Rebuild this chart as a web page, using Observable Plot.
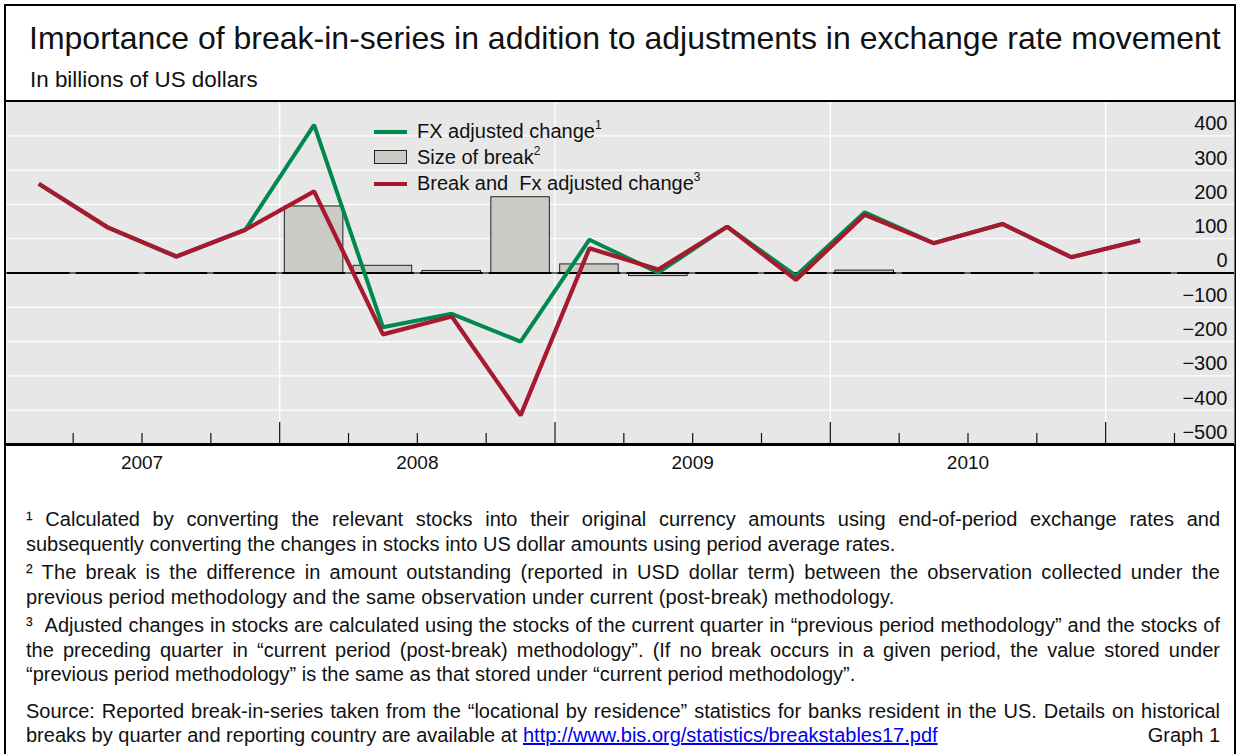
<!DOCTYPE html>
<html><head><meta charset="utf-8">
<script src="https://cdn.jsdelivr.net/npm/d3@7"></script>
<script src="https://cdn.jsdelivr.net/npm/@observablehq/plot@0.6"></script>
<style>
body{margin:0;background:#fff;font-family:"Liberation Sans",Arial,sans-serif;color:#111;}
#page{position:relative;width:1240px;height:754px;overflow:hidden;}
#frame{position:absolute;left:4px;top:4px;width:1232px;height:800px;border:2px solid #000;box-sizing:border-box;}
#title{position:absolute;left:29px;top:20px;font-size:32px;line-height:36px;white-space:nowrap;}
#subtitle{position:absolute;left:30px;top:67px;font-size:22.4px;line-height:26px;white-space:nowrap;}
#topline{position:absolute;left:4px;top:99.5px;width:1232px;height:2.5px;background:#000;}
#chart{position:absolute;left:6px;top:101px;}
#legend{position:absolute;left:0;top:0;}
.sw{position:absolute;left:374px;width:33px;}
.lt{position:absolute;left:417px;font-size:20px;line-height:22px;white-space:nowrap;}
.lt sup{font-size:12px;vertical-align:0;position:relative;top:-9px;}
#notes{position:absolute;left:26px;top:507px;width:1194px;font-size:20px;line-height:24.5px;text-align:justify;}
#notes p{margin:0 0 4px 0;}
#notes p.wide{letter-spacing:0.15px;}
#notes p.src{margin:12px 0 0 0;text-align-last:justify;white-space:nowrap;}
#notes .last{display:flex;justify-content:space-between;}
#notes a{color:#0000ee;text-decoration:underline;}
</style></head><body>
<div id="page">
  <div id="frame"></div>
  <div id="title">Importance of break-in-series in addition to adjustments in exchange rate movement</div>
  <div id="subtitle">In billions of US dollars</div>
  <div id="chart"></div>
  <div id="topline"></div>
  <div id="legend">
    <div class="sw" style="top:129.5px;height:4px;background:#00894e;"></div>
    <div class="lt" style="top:120px;">FX adjusted change<sup>1</sup></div>
    <div class="sw" style="top:150px;height:14px;background:#cbcbc5;border:1px solid #222;box-sizing:border-box;"></div>
    <div class="lt" style="top:146px;">Size of break<sup>2</sup></div>
    <div class="sw" style="top:182px;height:4px;background:#a6192e;"></div>
    <div class="lt" style="top:172px;">Break and &nbsp;Fx adjusted change<sup>3</sup></div>
  </div>
  <div id="notes">
    <p>¹ Calculated by converting the relevant stocks into their original currency amounts using end-of-period exchange rates and subsequently converting the changes in stocks into US dollar amounts using period average rates.</p>
    <p class="wide">² The break is the difference in amount outstanding (reported in USD dollar term) between the observation collected under the previous period methodology and the same observation under current (post-break) methodology.</p>
    <p>³ &nbsp;Adjusted changes in stocks are calculated using the stocks of the current quarter in “previous period methodology” and the stocks of the preceding quarter in “current period (post-break) methodology”. (If no break occurs in a given period, the value stored under “previous period methodology” is the same as that stored under “current period methodology”.</p>
    <p class="src">Source: Reported break-in-series taken from the “locational by residence” statistics for banks resident in the US. Details on historical</p>
    <div class="last"><span>breaks by quarter and reporting country are available at <a href="#">http://www.bis.org/statistics/breakstables17.pdf</a></span><span>Graph 1</span></div>
  </div>
</div>
<script>
const quarters = ["2007Q1","2007Q2","2007Q3","2007Q4","2008Q1","2008Q2","2008Q3","2008Q4","2009Q1","2009Q2","2009Q3","2009Q4","2010Q1","2010Q2","2010Q3","2010Q4","2011Q1"];
const fxAdjusted    = [260, 133, 48, 126, 432, -158, -119, -200, 97, 1, 135, -8, 177, 87, 143, 46, 95];
const breakAdjusted = [260, 133, 48, 126, 238, -179, -127, -415, 72, 10, 135, -20, 170, 87, 143, 46, 95];
const breakSize     = [0, 0, 0, 0, 194, 21, 6, 221, 25, -9, 0, 0, 7, 0, 0, 0, 0];
const yearLabels = ["2007","2008","2009","2010"];
const yTicks = [400, 300, 200, 100, 0, -100, -200, -300, -400, -500];
const yTickLabels = ["400","300","200","100","0","−100","−200","−300","−400","−500"];

const table = quarters.map((q, i) => ({k: i, q, year: q.slice(0, 4), fx: fxAdjusted[i], brk: breakAdjusted[i], size: breakSize[i]}));
const yearStarts = table.filter(d => d.q.endsWith("Q1") && d.k > 0).map(d => d.k);
const minorTicks = table.filter(d => d.k > 0 && !d.q.endsWith("Q1")).map(d => d.k).concat([quarters.length]);
const years = yearLabels.map(y => ({y, c: d3.mean(table.filter(d => d.year === y), d => d.k + 0.5)}));

const H = 343, W = 1228;
const yLo = -500, yHi = 500;
const px = p => yLo + p * (yHi - yLo) / H;
const xDomain = [0.031, 17.872];

const chart = Plot.plot({
  width: W, height: H + 40,
  marginTop: 0, marginBottom: 40, marginLeft: 0, marginRight: 0,
  x: {type: "linear", domain: xDomain, axis: null},
  y: {domain: [yLo, yHi], axis: null},
  style: {fontFamily: "'Liberation Sans', Arial, sans-serif", background: "transparent", overflow: "visible"},
  marks: [
    Plot.frame({fill: "#e7e7e7", stroke: null}),
    Plot.ruleY(yTicks.filter(v => v > yLo && v !== 0), {stroke: "#fff", strokeWidth: 1.3}),
    Plot.ruleX(yearStarts, {stroke: "#fff", strokeWidth: 1.3}),
    Plot.ruleY([0], {stroke: "#666", strokeWidth: 1.8}),
    Plot.rect(table.filter(d => d.size !== 0), {x1: d => d.k + 0.075, x2: d => d.k + 0.925, y1: 0, y2: "size", fill: "#cbcbc5", stroke: "#222", strokeWidth: 1}),
    Plot.ruleY(table, {y: () => 0, x1: d => d.k + 0.045, x2: d => d.k + 0.955, stroke: "#000", strokeWidth: 1.8}),
    Plot.ruleY([0], {x1: quarters.length + 0.045, x2: xDomain[1], stroke: "#000", strokeWidth: 1.8}),
    Plot.line(table, {x: d => d.k + 0.5, y: "fx", stroke: "#00894e", strokeWidth: 4, strokeLinejoin: "miter", strokeLinecap: "butt"}),
    Plot.line(table, {x: d => d.k + 0.5, y: "brk", stroke: "#a6192e", strokeWidth: 4.2, strokeLinejoin: "miter", strokeLinecap: "butt"}),
    Plot.ruleX(minorTicks, {y1: yLo, y2: px(11), stroke: "#111", strokeWidth: 1.2}),
    Plot.ruleX(yearStarts, {y1: yLo, y2: px(22), stroke: "#111", strokeWidth: 1.2}),
    Plot.ruleY([yLo], {stroke: "#000", strokeWidth: 3}),
    Plot.text(yTicks, {frameAnchor: "right", y: d => d, text: (d, i) => yTickLabels[i], textAnchor: "end", dx: -7, dy: -12, fontSize: 20, fill: "#111"}),
    Plot.text(years, {x: "c", frameAnchor: "bottom", text: "y", dy: 24, fontSize: 19, fill: "#111"})
  ]
});
document.getElementById("chart").appendChild(chart);
</script>
</body></html>
